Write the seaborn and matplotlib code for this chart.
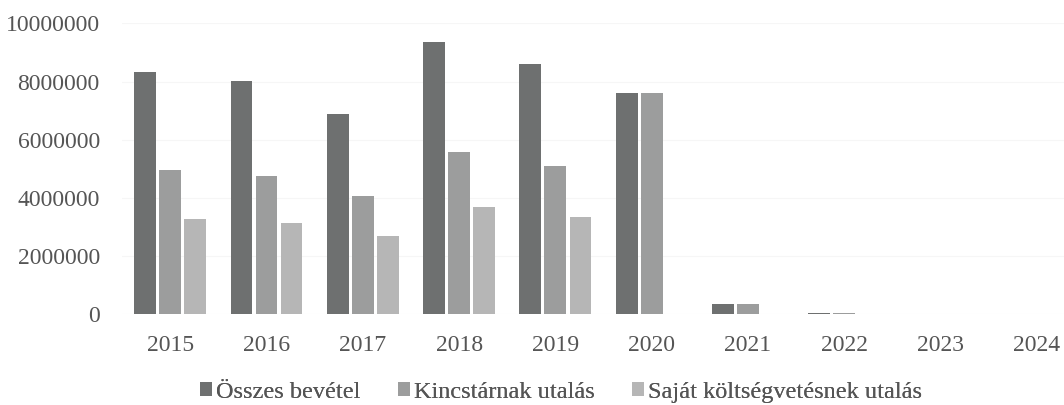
import matplotlib
matplotlib.use("Agg")
import matplotlib.pyplot as plt
from matplotlib.patches import Patch
import seaborn as sns
import pandas as pd

years = ["2015", "2016", "2017", "2018", "2019", "2020", "2021", "2022", "2023", "2024"]
osszes = [8320000, 8030000, 6890000, 9370000, 8600000, 7600000, 350000, 45000, 0, 0]
kincstar = [4970000, 4770000, 4080000, 5590000, 5110000, 7600000, 350000, 35000, 0, 0]
sajat = [3280000, 3150000, 2700000, 3680000, 3360000, 0, 0, 0, 0, 0]
series_names = ["Összes bevétel", "Kincstárnak utalás", "Saját költségvetésnek utalás"]
colors = ["#6e7070", "#9c9d9d", "#b6b6b6"]

rows = []
for name, vals in zip(series_names, [osszes, kincstar, sajat]):
    for y, v in zip(years, vals):
        rows.append({"year": y, "series": name, "value": v})
df = pd.DataFrame(rows)

sns.set_style("white")
plt.rcParams["font.family"] = ["Liberation Serif", "DejaVu Serif"]

fig = plt.figure(figsize=(10.64, 4.05), dpi=100)
ax = fig.add_axes([0.1147, 0.2235, 0.905, 0.7185])

sns.barplot(data=df, x="year", y="value", hue="series", order=years,
            hue_order=series_names, palette=colors, width=0.78, gap=0.13,
            linewidth=0, legend=False, ax=ax)

ax.set_xlim(-0.5, 9.5)
ax.set_ylim(0, 10000000)
ax.set_yticks([0, 2000000, 4000000, 6000000, 8000000, 10000000])
ax.set_yticklabels(["0", "2000000", "4000000", "6000000", "8000000", "10000000"])
ax.yaxis.grid(True, color="#f6f6f6", linewidth=0.8)
ax.set_axisbelow(True)
for s in ax.spines.values():
    s.set_visible(False)
ax.set_xlabel("")
ax.set_ylabel("")
ax.tick_params(axis="x", length=0, pad=15, labelsize=17, labelcolor="#555555")
ax.tick_params(axis="y", length=0, pad=16, labelsize=17, labelcolor="#555555")
for lab in ax.get_xticklabels() + ax.get_yticklabels():
    lab.set_family("Liberation Serif")

# legend entries positioned individually, as in the reference
legend_x = [0.188, 0.374, 0.594]
for name, c, lx in zip(series_names, colors, legend_x):
    leg = fig.legend([Patch(facecolor=c, edgecolor="none")], [name],
                     loc="center left", bbox_to_anchor=(lx, 0.032),
                     frameon=False, fontsize=17.5, borderpad=0, borderaxespad=0,
                     handlelength=0.5, handleheight=0.5, handletextpad=0.15)
    for t in leg.get_texts():
        t.set_fontfamily("Liberation Serif")
        t.set_color("#555555")
    fig.add_artist(leg)

fig.savefig("out.png", dpi=100)
